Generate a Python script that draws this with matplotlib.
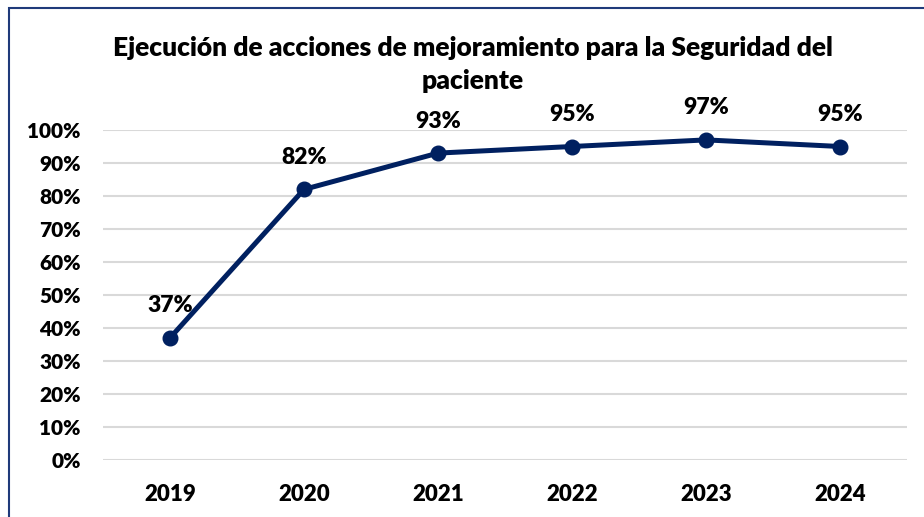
import matplotlib.pyplot as plt
from matplotlib.patches import Rectangle

# Datos
years = ['2019', '2020', '2021', '2022', '2023', '2024']
values = [0.37, 0.82, 0.93, 0.95, 0.97, 0.95]
labels = ['37%', '82%', '93%', '95%', '97%', '95%']
yticks = [0, 0.1, 0.2, 0.3, 0.4, 0.5, 0.6, 0.7, 0.8, 0.9, 1.0]

navy = '#002060'
plt.rcParams['font.family'] = ['Lato', 'DejaVu Sans']

fig = plt.figure(figsize=(9.24, 5.17), dpi=100)
ax = fig.add_axes([103 / 924, 57 / 517, 804 / 924, 330 / 517])

# Borde del gráfico (recortado a la derecha y abajo)
fig.patches.append(Rectangle((9 / 924, -0.1), 1.2, (517 - 8) / 517 + 0.1,
                             transform=fig.transFigure, fill=False,
                             edgecolor='#1F3A7A', linewidth=1.5))

x = range(len(years))
ax.plot(x, values, color=navy, linewidth=3.6, marker='o', markersize=10.5,
        zorder=3, solid_capstyle='round')

for xi, v, lab in zip(x, values, labels):
    ax.annotate(lab, (xi, v), xytext=(0, 23), textcoords='offset points',
                ha='center', va='center', fontsize=16.5, fontweight='heavy')

ax.set_xlim(-0.5, len(years) - 0.5)
ax.set_ylim(0, 1.0)
ax.set_yticks(yticks)
ax.set_yticklabels([f'{int(round(t * 100))}%' for t in yticks],
                   fontsize=15, fontweight='heavy')
ax.set_xticks(list(x))
ax.set_xticklabels(years, fontsize=16, fontweight='heavy')
ax.tick_params(axis='both', length=0)
ax.tick_params(axis='y', pad=16)
ax.tick_params(axis='x', pad=17)
ax.grid(axis='y', color='#D9D9D9', linewidth=1.5)
ax.set_axisbelow(True)
for s in ax.spines.values():
    s.set_visible(False)

fig.text(473 / 924, 1 - 48 / 517,
         'Ejecución de acciones de mejoramiento para la Seguridad del',
         ha='center', va='center', fontsize=19, fontweight='heavy')
fig.text(473 / 924, 1 - 81 / 517, 'paciente',
         ha='center', va='center', fontsize=19, fontweight='heavy')

fig.savefig('out.png', dpi=100)
